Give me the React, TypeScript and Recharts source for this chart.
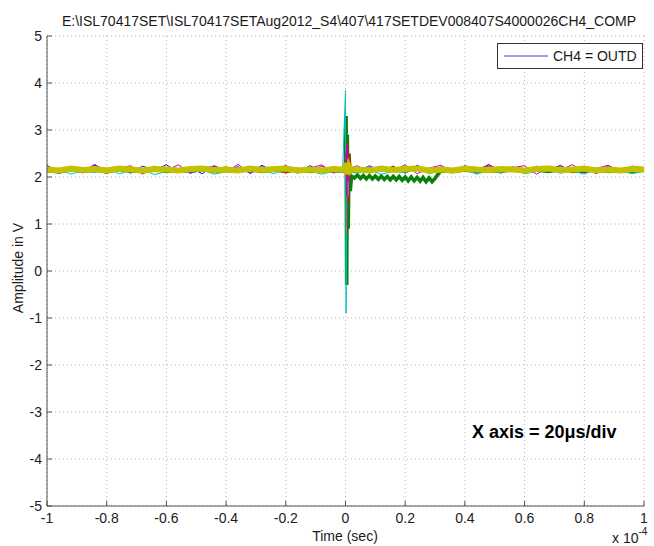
import { LineChart, Line, XAxis, YAxis, CartesianGrid } from 'recharts'

// time in units of 1e-4 s
const TIME = [
  -1, -0.96, -0.92, -0.88, -0.84, -0.8, -0.76, -0.72, -0.68, -0.64, -0.6, -0.56, -0.52,
  -0.48, -0.44, -0.4, -0.36, -0.32, -0.28, -0.24, -0.2, -0.16, -0.12, -0.08, -0.04,
  -0.01, 0, 0.002, 0.004, 0.006, 0.009, 0.012, 0.016, 0.02,
  0.04, 0.08, 0.12, 0.16, 0.2, 0.24, 0.28, 0.32, 0.36, 0.4, 0.44, 0.48, 0.52,
  0.56, 0.6, 0.64, 0.68, 0.72, 0.76, 0.8, 0.84, 0.88, 0.92, 0.96, 1,
]

// the green channel is sampled finer where it sags after the transient
const GREEN_TIME = [
  -1, -0.96, -0.92, -0.88, -0.84, -0.8, -0.76, -0.72, -0.68, -0.64, -0.6, -0.56, -0.52,
  -0.48, -0.44, -0.4, -0.36, -0.32, -0.28, -0.24, -0.2, -0.16, -0.12, -0.08, -0.04,
  -0.01, 0, 0.002, 0.004, 0.006, 0.009, 0.012, 0.016, 0.02,
  0.03, 0.04, 0.05, 0.06, 0.07, 0.08, 0.09, 0.1, 0.11, 0.12, 0.13, 0.14, 0.15,
  0.16, 0.17, 0.18, 0.19, 0.2, 0.21, 0.22, 0.23, 0.24, 0.25, 0.26, 0.27, 0.28,
  0.29, 0.3, 0.31,
  0.32, 0.36, 0.4, 0.44, 0.48, 0.52, 0.56, 0.6, 0.64, 0.68, 0.72, 0.76, 0.8,
  0.84, 0.88, 0.92, 0.96, 1,
]

const CH_BLUE = [
  2.24, 2.12, 2.22, 2.09, 2.25, 2.14, 2.21, 2.08, 2.23, 2.15, 2.26, 2.1, 2.2,
  2.07, 2.24, 2.13, 2.22, 2.09, 2.25, 2.11, 2.21, 2.08, 2.24, 2.14, 2.22,
  2.15, 2.18, 2.35, 1.95, 2.3, 2.05, 2.2, 2.12, 2.18,
  2.1, 2.24, 2.12, 2.23, 2.08, 2.25, 2.13, 2.21, 2.09, 2.24, 2.15, 2.26, 2.11,
  2.22, 2.08, 2.23, 2.14, 2.25, 2.1, 2.21, 2.07, 2.24, 2.12, 2.23, 2.15,
]

const CH_GREEN = [
  2.14, 2.11, 2.16, 2.12, 2.15, 2.11, 2.16, 2.13, 2.12, 2.16, 2.12, 2.15, 2.12,
  2.16, 2.12, 2.14, 2.13, 2.16, 2.12, 2.15, 2.12, 2.16, 2.12, 2.14, 2.13,
  2.13, 2.12, 3.3, -0.3, 2.9, 0.9, 2.5, 1.7, 2.02,
  1.98, 2.04, 1.97, 2.03, 1.96, 2.03, 1.96, 2.02, 1.95, 2.02, 1.95, 2.01, 1.94,
  2.01, 1.94, 2.01, 1.93, 2.0, 1.92, 2.0, 1.92, 1.99, 1.91, 1.99, 1.9, 1.98,
  1.9, 1.97, 2.06,
  2.13, 2.12, 2.15, 2.12, 2.14, 2.12, 2.16, 2.12, 2.15, 2.12, 2.16, 2.13, 2.12,
  2.16, 2.12, 2.14, 2.12, 2.15,
]

const CH_RED = [
  2.18, 2.1, 2.22, 2.13, 2.19, 2.08, 2.21, 2.15, 2.11, 2.23, 2.12, 2.18, 2.09,
  2.2, 2.14, 2.22, 2.1, 2.17, 2.13, 2.21, 2.08, 2.19, 2.12, 2.23, 2.15,
  2.16, 2.12, 2.2, 2.75, 0.8, 2.6, 1.5, 2.4, 2.1,
  2.11, 2.2, 2.14, 2.22, 2.09, 2.18, 2.13, 2.21, 2.1, 2.19, 2.15, 2.23, 2.08,
  2.2, 2.12, 2.18, 2.14, 2.22, 2.09, 2.17, 2.13, 2.21, 2.1, 2.19, 2.16,
]

const CH_CYAN = [
  2.1, 2.17, 2.06, 2.14, 2.09, 2.19, 2.07, 2.13, 2.16, 2.05, 2.12, 2.18, 2.08,
  2.15, 2.06, 2.11, 2.17, 2.09, 2.14, 2.07, 2.18, 2.1, 2.13, 2.06, 2.12,
  2.11, 3.85, -0.9, 1.15, 2.6, 1.6, 2.25, 2.05, 2.1,
  2.08, 2.15, 2.06, 2.12, 2.09, 2.17, 2.07, 2.13, 2.1, 2.16, 2.06, 2.14, 2.09,
  2.18, 2.07, 2.12, 2.15, 2.08, 2.13, 2.06, 2.17, 2.1, 2.14, 2.07, 2.12,
]

const CH_MAGENTA = [
  2.25, 2.07, 2.2, 2.12, 2.27, 2.09, 2.18, 2.24, 2.06, 2.21, 2.14, 2.26, 2.08,
  2.19, 2.23, 2.1, 2.27, 2.07, 2.22, 2.13, 2.25, 2.09, 2.18, 2.26, 2.08,
  2.2, 2.15, 2.55, 1.6, 2.7, 1.9, 2.3, 2.05, 2.2,
  2.24, 2.09, 2.21, 2.13, 2.26, 2.07, 2.19, 2.25, 2.1, 2.22, 2.08, 2.27, 2.12,
  2.2, 2.24, 2.06, 2.21, 2.15, 2.26, 2.09, 2.18, 2.25, 2.11, 2.23, 2.2,
]

const CH_YELLOW = [
  2.16, 2.14, 2.18, 2.15, 2.17, 2.14, 2.18, 2.16, 2.14, 2.17, 2.16, 2.14, 2.17,
  2.18, 2.15, 2.16, 2.14, 2.18, 2.15, 2.17, 2.18, 2.14, 2.16, 2.14, 2.17,
  2.16, 2.18, 2.3, 2.05, 2.25, 2.1, 2.2, 2.14, 2.17,
  2.16, 2.14, 2.18, 2.15, 2.17, 2.18, 2.14, 2.16, 2.14, 2.18, 2.16, 2.15, 2.17,
  2.16, 2.14, 2.17, 2.18, 2.15, 2.16, 2.18, 2.14, 2.16, 2.14, 2.17, 2.16,
]

const X_TICKS = [-1, -0.8, -0.6, -0.4, -0.2, 0, 0.2, 0.4, 0.6, 0.8, 1]
const Y_TICKS = [-5, -4, -3, -2, -1, 0, 1, 2, 3, 4, 5]

const TITLE = 'E:\\ISL70417SET\\ISL70417SETAug2012_S4\\407\\417SETDEV008407S4000026CH4_COMP'

const toRows = (times: number[], values: number[]) => times.map((t, i) => ({ t, v: values[i] }))

const SERIES = [
  { name: 'blue', color: '#0000ff', width: 1, rows: toRows(TIME, CH_BLUE) },
  { name: 'green', color: '#0a800a', width: 3.6, rows: toRows(GREEN_TIME, CH_GREEN) },
  { name: 'red', color: '#ff0000', width: 1, rows: toRows(TIME, CH_RED) },
  { name: 'cyan', color: '#00bfbf', width: 1, rows: toRows(TIME, CH_CYAN) },
  { name: 'magenta', color: '#bf00bf', width: 1, rows: toRows(TIME, CH_MAGENTA) },
  { name: 'yellow', color: '#c2c200', width: 6, rows: toRows(TIME, CH_YELLOW) },
]

const FONT = '"Liberation Sans", Arial, Helvetica, sans-serif'
const AXIS = '#505050'
const INK = '#1a1a1a'

function XTick(props: any) {
  const { x, y, payload } = props
  return (
    <g>
      <line x1={x} x2={x} y1={y - 6} y2={y - 11} stroke={AXIS} />
      <text x={x} y={y + 11} textAnchor="middle" fontSize={14} fill={INK} fontFamily={FONT}>
        {payload.value}
      </text>
    </g>
  )
}

function YTick(props: any) {
  const { x, y, payload } = props
  return (
    <g>
      <line x1={x + 5} x2={x + 10} y1={y} y2={y} stroke={AXIS} />
      <text x={x} y={y + 5} textAnchor="end" fontSize={14} fill={INK} fontFamily={FONT}>
        {payload.value}
      </text>
    </g>
  )
}

export default function App() {
  return (
    <div style={{ position: 'absolute', left: 0, top: 0, width: 654, height: 546, background: '#fff', fontFamily: FONT }}>
      <LineChart width={654} height={546} margin={{ top: 36, right: 10, bottom: 0, left: 0 }}>
        <CartesianGrid stroke="#b4b4b4" strokeDasharray="1 3" />
        <XAxis
          dataKey="t"
          type="number"
          domain={[-1, 1]}
          ticks={X_TICKS}
          height={40}
          tickSize={0}
          tickMargin={6}
          tickLine={false}
          axisLine={{ stroke: AXIS }}
          tick={<XTick />}
          interval={0}
        />
        <YAxis
          type="number"
          domain={[-5, 5]}
          ticks={Y_TICKS}
          width={47}
          tickSize={0}
          tickMargin={5}
          tickLine={false}
          axisLine={{ stroke: AXIS }}
          tick={<YTick />}
          interval={0}
        />
        {SERIES.map(s => (
          <Line
            key={s.name}
            data={s.rows}
            dataKey="v"
            stroke={s.color}
            strokeWidth={s.width}
            dot={false}
            isAnimationActive={false}
          />
        ))}
      </LineChart>

      <svg width={654} height={546} style={{ position: 'absolute', left: 0, top: 0, pointerEvents: 'none' }}>
        <text x={349} y={26} textAnchor="middle" fontSize={14} fill={INK} fontFamily={FONT}>{TITLE}</text>
        <text x={345} y={541} textAnchor="middle" fontSize={14} fill={INK} fontFamily={FONT}>Time (sec)</text>
        <text x={612} y={543} fontSize={14} fill={INK} fontFamily={FONT}>
          x 10<tspan dy={-8} fontSize={10}>-4</tspan>
        </text>
        <text
          x={23}
          y={268}
          transform="rotate(-90 23 268)"
          textAnchor="middle"
          fontSize={14}
          fill={INK}
          fontFamily={FONT}
        >
          Amplitude in V
        </text>
        <rect x={497.5} y={43.5} width={145} height={25} fill="#fff" stroke="#333" />
        <line x1={504} x2={548} y1={56} y2={56} stroke="#3a3ad8" strokeWidth={1} />
        <text x={553} y={61} fontSize={14} fill={INK} fontFamily={FONT}>CH4 = OUTD</text>
        <text x={472} y={438} fontSize={18} fontWeight="bold" fill="#000" fontFamily={FONT}>X axis = 20μs/div</text>
      </svg>
    </div>
  )
}
